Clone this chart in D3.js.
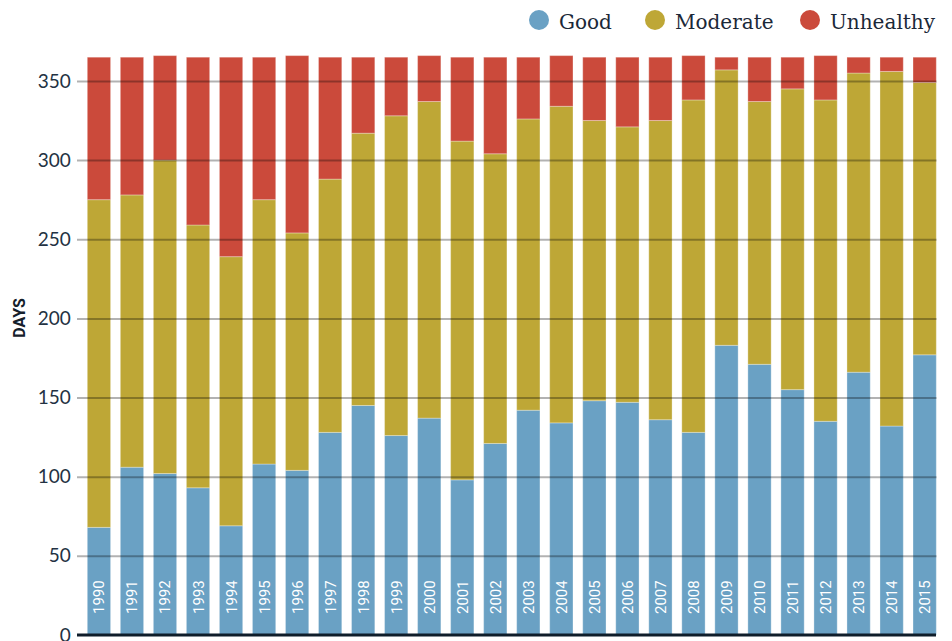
<!DOCTYPE html>
<html>
<head>
<meta charset="utf-8">
<script src="https://cdn.jsdelivr.net/npm/d3@7"></script>
<style>
  html, body { margin: 0; padding: 0; background: #fff; }
  svg { display: block; }
</style>
</head>
<body>
<svg id="chart" width="952" height="641"></svg>
<script>
const years = ["1990","1991","1992","1993","1994","1995","1996","1997","1998","1999","2000","2001","2002","2003","2004","2005","2006","2007","2008","2009","2010","2011","2012","2013","2014","2015"];
const totalDays = [365,365,366,365,365,365,366,365,365,365,366,365,365,365,366,365,365,365,366,365,365,365,366,365,365,365];
const good = [68,106,102,93,69,108,104,128,145,126,137,98,121,142,134,148,147,136,128,183,171,155,135,166,132,177];
const moderate = [207,172,198,166,170,167,150,160,172,202,200,214,183,184,200,177,174,189,210,174,166,190,203,189,224,172];
const unhealthy = totalDays.map((t, i) => t - good[i] - moderate[i]);
const seriesNames = ["Good", "Moderate", "Unhealthy"];
const seriesColors = ["#6aa1c4", "#bea736", "#cb4a3b"];
const yTicks = [0, 50, 100, 150, 200, 250, 300, 350];
const yTitle = "DAYS";

const svg = d3.select("#chart");

const rows = years.map((y, i) => ({ year: y, Good: good[i], Moderate: moderate[i], Unhealthy: unhealthy[i] }));
const stack = d3.stack().keys(seriesNames)(rows);

const x = d3.scaleBand().domain(years).range([87.3, 936.3]).paddingInner(0.295).paddingOuter(0);
const y = d3.scaleLinear().domain([0, 366]).range([635, 635 - 366 * 1.583]);
const color = d3.scaleOrdinal().domain(seriesNames).range(seriesColors);

// bars
const gBars = svg.append("g");
gBars.selectAll("g.series").data(stack).join("g")
  .attr("fill", d => color(d.key))
  .selectAll("rect").data(d => d).join("rect")
  .attr("x", d => x(d.data.year))
  .attr("width", x.bandwidth())
  .attr("y", d => y(d[1]))
  .attr("height", d => y(d[0]) - y(d[1]))
  .attr("stroke", "rgba(255,255,255,0.3)")
  .attr("stroke-width", 1);

// gridlines (on top of bars)
const yAxis = d3.axisLeft(y).tickValues(yTicks).tickSize(-(936.5 - 77)).tickPadding(6);
const gAxis = svg.append("g").attr("transform", "translate(77,0)").call(yAxis);
gAxis.select(".domain").remove();
gAxis.selectAll(".tick line")
  .attr("stroke", "#000").attr("stroke-opacity", 0.3).attr("stroke-width", 2)
  .attr("x1", 0);
gAxis.selectAll(".tick").filter(d => d === 0).select("line").remove();
gAxis.selectAll(".tick text")
  .attr("x", -6.3)
  .attr("fill", "#233243")
  .style("font-family", "Lato, 'Open Sans', sans-serif")
  .style("font-size", "19px");

// zero baseline
svg.append("line")
  .attr("x1", 77).attr("x2", 936)
  .attr("y1", y(0)).attr("y2", y(0))
  .attr("stroke", "#0f1d2a").attr("stroke-width", 3);

// year labels in bars
svg.append("g").selectAll("text").data(years).join("text")
  .attr("transform", d => `translate(${x(d) + x.bandwidth() / 2 + 5.5},${614}) rotate(-90)`)
  .attr("fill", "#ffffff")
  .style("font-family", "Roboto, 'Open Sans', sans-serif")
  .style("font-size", "15px")
  .text(d => d);

// y title
svg.append("text")
  .attr("transform", "translate(24.5,318) rotate(-90)")
  .attr("text-anchor", "middle")
  .attr("fill", "#15202b")
  .style("font-family", "'Liberation Sans Narrow', 'Roboto', sans-serif")
  .style("font-weight", "bold")
  .style("font-size", "16px")
  .text(yTitle);

// legend
const legendX = [539, 655, 810];
const gLeg = svg.append("g");
seriesNames.forEach((name, i) => {
  gLeg.append("circle").attr("cx", legendX[i]).attr("cy", 20).attr("r", 10).attr("fill", seriesColors[i]);
  gLeg.append("text").attr("x", legendX[i] + 20).attr("y", 28.5)
    .attr("fill", "#1b2838")
    .style("font-family", "'DejaVu Serif', serif")
    .style("font-size", "20px")
    .text(name);
});
</script>
</body>
</html>
